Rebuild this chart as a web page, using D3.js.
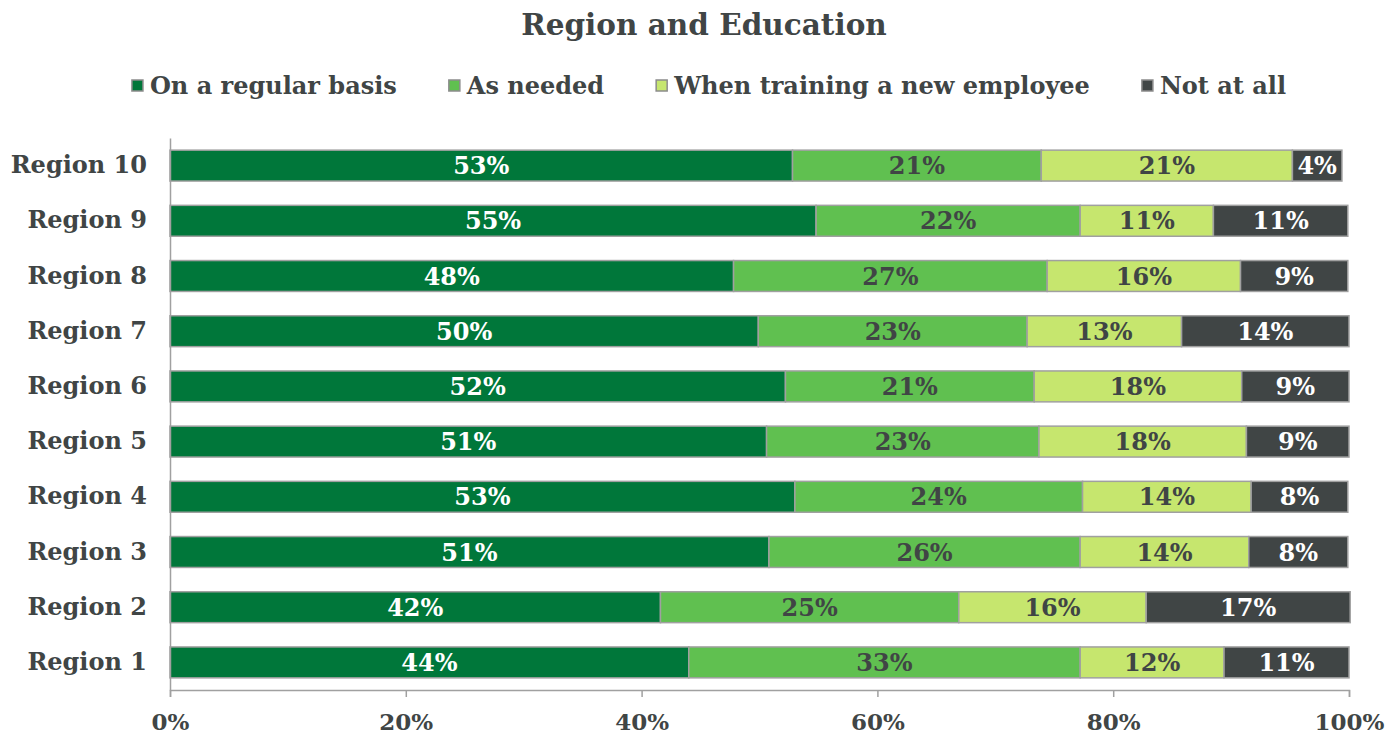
<!DOCTYPE html>
<html>
<head>
<meta charset="utf-8">
<script src="https://cdn.jsdelivr.net/npm/d3@7"></script>
<style>
  html, body { margin: 0; padding: 0; background: #fff; }
  svg { display: block; }
  text { font-family: "DejaVu Serif", "Liberation Serif", Georgia, serif; font-weight: bold; }
</style>
</head>
<body>
<svg id="chart" width="1388" height="735"></svg>
<script>
// Survey responses by region (share of respondents, 0–1)
const regions = ["Region 10", "Region 9", "Region 8", "Region 7", "Region 6",
                 "Region 5", "Region 4", "Region 3", "Region 2", "Region 1"];
const seriesNames = ["On a regular basis", "As needed", "When training a new employee", "Not at all"];
const regularBasis = [0.528, 0.548, 0.478, 0.499, 0.522, 0.506, 0.530, 0.508, 0.416, 0.440];
const asNeeded     = [0.211, 0.224, 0.266, 0.228, 0.211, 0.231, 0.244, 0.264, 0.253, 0.332];
const whenTraining = [0.213, 0.113, 0.164, 0.131, 0.176, 0.176, 0.143, 0.143, 0.159, 0.122];
const notAtAll     = [0.042, 0.114, 0.091, 0.142, 0.091, 0.087, 0.082, 0.084, 0.173, 0.106];
const tickValues = [0, 0.2, 0.4, 0.6, 0.8, 1.0];

const colors = ["#00773a", "#60c050", "#c6e66e", "#404545"];
const labelColors = ["#ffffff", "#404545", "#404545", "#ffffff"];
const textColor = "#404545";
const axisColor = "#a0a0a0";

const rows = regions.map((r, i) => ({
  region: r,
  [seriesNames[0]]: regularBasis[i],
  [seriesNames[1]]: asNeeded[i],
  [seriesNames[2]]: whenTraining[i],
  [seriesNames[3]]: notAtAll[i]
}));
const stacked = d3.stack().keys(seriesNames)(rows);

const svg = d3.select("#chart");
const plot = { left: 170, right: 1349, top: 138, bottom: 690 };

const x = d3.scaleLinear().domain([0, 1]).range([plot.left, plot.right]);
const y = d3.scaleBand().domain(regions).range([plot.top, plot.bottom])
  .paddingInner(0.44).paddingOuter(0.22);
const color = d3.scaleOrdinal().domain(seriesNames).range(colors);
const labelColor = d3.scaleOrdinal().domain(seriesNames).range(labelColors);
const pct = d3.format(".0%");

// Title
svg.append("text")
  .attr("x", 704).attr("y", 35)
  .attr("text-anchor", "middle")
  .attr("font-size", 29.5)
  .attr("fill", textColor)
  .text("Region and Education");

// Legend, laid out left to right and centred
const legend = svg.append("g").attr("class", "legend");
const items = legend.selectAll("g").data(seriesNames).join("g");
items.append("rect")
  .attr("width", 11).attr("height", 11)
  .attr("y", 80)
  .attr("fill", d => color(d))
  .attr("stroke", "#8c8c8c").attr("stroke-width", 1.5);
items.append("text")
  .attr("x", 18).attr("y", 94)
  .attr("font-size", 24)
  .attr("fill", textColor)
  .text(d => d);
let cursor = 0;
const gap = 52;
items.each(function () {
  const g = d3.select(this);
  g.attr("transform", `translate(${cursor},0)`);
  cursor += 18 + g.select("text").node().getComputedTextLength() + gap;
});
const legendWidth = cursor - gap;
legend.attr("transform", `translate(${709 - legendWidth / 2},0)`);

// Bars
const layers = svg.append("g").selectAll("g").data(stacked).join("g")
  .attr("fill", d => color(d.key));
layers.selectAll("rect").data(d => d).join("rect")
  .attr("x", d => x(d[0]))
  .attr("y", d => y(d.data.region))
  .attr("width", d => x(d[1]) - x(d[0]))
  .attr("height", y.bandwidth())
  .attr("stroke", axisColor)
  .attr("stroke-width", 1.5);

// Value labels
const labels = svg.append("g").selectAll("g").data(stacked).join("g")
  .attr("fill", d => labelColor(d.key));
labels.selectAll("text").data(d => d).join("text")
  .attr("x", d => (x(d[0]) + x(d[1])) / 2)
  .attr("y", d => y(d.data.region) + y.bandwidth() / 2)
  .attr("dy", "0.36em")
  .attr("text-anchor", "middle")
  .attr("font-size", 24)
  .text(d => pct(d[1] - d[0]));

// Axes
const xAxis = svg.append("g")
  .attr("transform", `translate(0,${plot.bottom})`)
  .call(d3.axisBottom(x).tickValues(tickValues).tickFormat(pct).tickSize(7).tickSizeOuter(7).tickPadding(17));
xAxis.select(".domain").attr("stroke", axisColor).attr("stroke-width", 1.5);
xAxis.selectAll(".tick line").attr("stroke", axisColor).attr("stroke-width", 1.5);
xAxis.selectAll(".tick text")
  .attr("font-size", 23)
  .attr("font-family", null)
  .attr("fill", textColor);

const yAxis = svg.append("g")
  .attr("transform", `translate(${plot.left},0)`)
  .call(d3.axisLeft(y).tickSize(0).tickPadding(23));
yAxis.select(".domain").attr("stroke", axisColor).attr("stroke-width", 1.5);
yAxis.selectAll(".tick text")
  .attr("font-size", 24)
  .attr("font-family", null)
  .attr("fill", textColor);
xAxis.attr("font-family", null);
yAxis.attr("font-family", null);
</script>
</body>
</html>
